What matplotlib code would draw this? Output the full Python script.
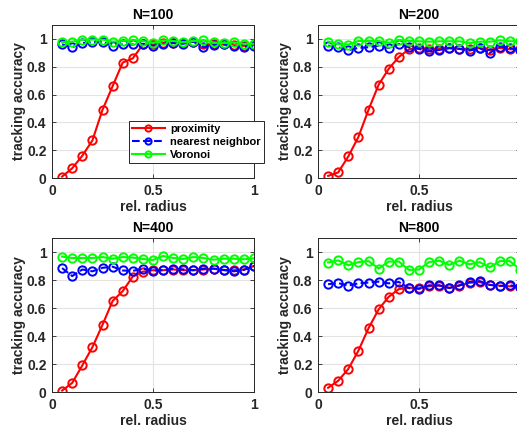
import numpy as np
import matplotlib
matplotlib.use("Agg")
import matplotlib.pyplot as plt

plt.rcParams['font.family'] = ['Liberation Sans', 'DejaVu Sans']
plt.rcParams['font.weight'] = 'bold'
plt.rcParams['font.size'] = 10

# relative radius 0.05 ... 1.0
radius = np.arange(1, 21) * 0.05

titles = ["N=100", "N=200", "N=400", "N=800"]

prox_100 = [0.01, 0.07, 0.16, 0.27, 0.49, 0.66, 0.83, 0.86, 0.96, 0.96,
            0.97, 0.97, 0.97, 0.98, 0.96, 0.96, 0.96, 0.955, 0.95, 0.955]
nn_100 = [0.96, 0.94, 0.97, 0.975, 0.98, 0.95, 0.96, 0.96, 0.965, 0.95,
          0.965, 0.97, 0.965, 0.98, 0.94, 0.955, 0.96, 0.95, 0.94, 0.95]
vor_100 = [0.975, 0.98, 0.995, 0.995, 0.995, 0.98, 0.985, 0.99, 0.985, 0.97,
           0.99, 0.985, 0.975, 0.985, 0.99, 0.975, 0.97, 0.975, 0.965, 0.965]

prox_200 = [0.015, 0.04, 0.155, 0.295, 0.49, 0.67, 0.785, 0.87, 0.925, 0.935,
            0.925, 0.93, 0.935, 0.93, 0.925, 0.935, 0.92, 0.935, 0.925, 0.925]
nn_200 = [0.952, 0.94, 0.92, 0.935, 0.94, 0.952, 0.935, 0.965, 0.94, 0.928,
          0.911, 0.92, 0.933, 0.928, 0.916, 0.933, 0.899, 0.945, 0.935, 0.92]
vor_200 = [0.981, 0.962, 0.959, 0.985, 0.985, 0.985, 0.971, 0.992, 0.985, 0.983,
           0.98, 0.983, 0.983, 0.983, 0.969, 0.98, 0.98, 0.99, 0.983, 0.985]

prox_400 = [0.01, 0.065, 0.19, 0.32, 0.48, 0.65, 0.72, 0.825, 0.86, 0.87,
            0.87, 0.875, 0.87, 0.87, 0.875, 0.88, 0.87, 0.87, 0.875, 0.9]
nn_400 = [0.885, 0.828, 0.875, 0.862, 0.887, 0.895, 0.868, 0.865, 0.882, 0.867,
          0.87, 0.88, 0.876, 0.87, 0.88, 0.882, 0.872, 0.862, 0.872, 0.9]
vor_400 = [0.967, 0.957, 0.957, 0.957, 0.964, 0.952, 0.964, 0.96, 0.95, 0.943,
           0.972, 0.957, 0.95, 0.964, 0.957, 0.945, 0.952, 0.952, 0.948, 0.955]

prox_800 = [0.03, 0.08, 0.165, 0.295, 0.455, 0.59, 0.68, 0.735, 0.745, 0.74,
            0.755, 0.76, 0.745, 0.76, 0.78, 0.785, 0.765, 0.76, 0.755, 0.75]
nn_800 = [0.77, 0.778, 0.76, 0.776, 0.782, 0.788, 0.776, 0.786, 0.742, 0.737,
          0.762, 0.762, 0.742, 0.762, 0.786, 0.792, 0.765, 0.757, 0.762, 0.75]
vor_800 = [0.925, 0.94, 0.905, 0.928, 0.935, 0.882, 0.932, 0.932, 0.872, 0.875,
           0.928, 0.938, 0.908, 0.938, 0.912, 0.928, 0.89, 0.935, 0.935, 0.875]

prox = [prox_100, prox_200, prox_400, prox_800]
nn = [nn_100, nn_200, nn_400, nn_800]
vor = [vor_100, vor_200, vor_400, vor_800]

W, H = 517, 430
fig = plt.figure(figsize=(W / 100, H / 100), dpi=100)

# axes boxes in pixels: left, top, right, bottom
# (right column runs a little past the figure edge, like the reference)
boxes = [(52, 25, 254, 178), (318, 25, 520, 178),
         (52, 238, 254, 392), (318, 238, 520, 392)]

dark = '#262626'
for i, (l, t, r, b) in enumerate(boxes):
    ax = fig.add_axes([l / W, 1 - b / H, (r - l) / W, (b - t) / H])
    mk = dict(marker='o', markersize=6, markerfacecolor='none', markeredgewidth=1.4)
    ax.plot(radius, prox[i], '-', color='#ff0000', lw=1.5, label='proximity', **mk)
    ax.plot(radius, nn[i], '--', color='#0000ff', lw=1.5, label='nearest neighbor', **mk)
    ax.plot(radius, vor[i], '-', color='#00ff00', lw=1.5, label='Voronoi', **mk)
    ax.set_xlim(0, 1)
    ax.set_ylim(0, 1.1)
    ax.set_xticks([0, 0.5, 1])
    ax.set_xticklabels(['0', '0.5', '1'])
    ax.set_yticks([0, 0.2, 0.4, 0.6, 0.8, 1])
    ax.set_yticklabels(['0', '0.2', '0.4', '0.6', '0.8', '1'])
    ax.grid(True, color='#e3e3e3', lw=0.8)
    ax.set_axisbelow(True)
    ax.tick_params(direction='in', length=3, width=0.6, colors=dark,
                   top=True, right=True, labelsize=10, pad=4)
    for s in ax.spines.values():
        s.set_color(dark)
        s.set_linewidth(0.7)
    ax.set_title(titles[i], fontsize=10, fontweight='bold', color='#000000', pad=4)
    ax.set_xlabel('rel. radius', fontsize=10, fontweight='bold', color=dark, labelpad=2)
    ax.set_ylabel('tracking accuracy', fontsize=10, fontweight='bold', color=dark, labelpad=1)
    if i == 0:
        leg = ax.legend(loc='upper left', bbox_to_anchor=(129 / W, 1 - 121 / H),
                        bbox_transform=fig.transFigure, fontsize=8,
                        fancybox=False, framealpha=1, edgecolor=dark,
                        handlelength=2.9, handletextpad=0.5, labelspacing=0.25,
                        borderpad=0.3, borderaxespad=0, markerscale=0.75)
        leg.get_frame().set_linewidth(0.7)
        for txt in leg.get_texts():
            txt.set_color('#000000')

fig.savefig('out.png', dpi=100)
